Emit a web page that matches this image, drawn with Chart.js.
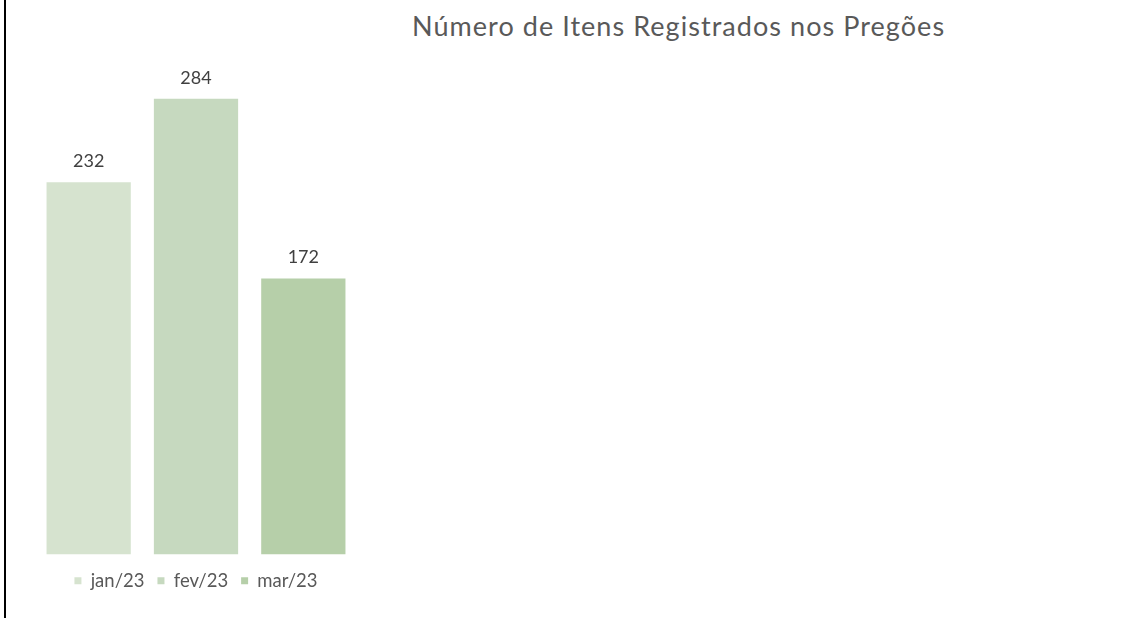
<!DOCTYPE html>
<html>
<head>
<meta charset="utf-8">
<script src="https://cdn.jsdelivr.net/npm/chart.js@4"></script>
<style>
  html, body { margin: 0; padding: 0; background: #fff; }
  #page { position: relative; width: 1146px; height: 618px; overflow: hidden; }
  #edge { position: absolute; left: 4px; top: 0; width: 2px; height: 618px; background: #000; }
  #title { position: absolute; left: 412px; top: 10px; font-family: Lato, sans-serif; font-size: 27px; letter-spacing: 1.05px; line-height: 32px; color: #595959; white-space: nowrap; }
  #box { position: absolute; left: 35px; top: 0; width: 322px; height: 618px; }
</style>
</head>
<body>
<div id="page">
  <div id="edge"></div>
  <div id="title">Número de Itens Registrados nos Pregões</div>
  <div id="box"><canvas id="chart"></canvas></div>
</div>
<script>
// séries (uma por mês) e valores
const categories = ['Itens'];
const seriesNames = ['jan/23', 'fev/23', 'mar/23'];
const seriesValues = [[232], [284], [172]];
const seriesColors = ['#d6e3cf', '#c6d9bf', '#b6cfa9'];

// rótulos de valor acima das barras
const valueLabels = {
    id: 'valueLabels',
    afterDatasetsDraw(chart) {
        const ctx = chart.ctx;
        ctx.save();
        ctx.font = '18px Lato';
        ctx.fillStyle = '#404040';
        ctx.textAlign = 'center';
        ctx.textBaseline = 'alphabetic';
        chart.data.datasets.forEach((ds, i) => {
            chart.getDatasetMeta(i).data.forEach((bar, j) => {
                ctx.fillText(ds.data[j], bar.x, bar.y - 15);
            });
        });
        ctx.restore();
    }
};

const ctx = document.getElementById('chart').getContext('2d');
new Chart(ctx, {
    type: 'bar',
    data: {
        labels: categories,
        datasets: seriesNames.map((name, i) => ({
            label: name,
            data: seriesValues[i],
            backgroundColor: seriesColors[i],
            borderWidth: 0
        }))
    },
    options: {
        responsive: true,
        maintainAspectRatio: false,
        animation: false,
        layout: { padding: { top: 73, bottom: 18, left: 0, right: 0 } },
        categoryPercentage: 1,
        barPercentage: 0.785,
        scales: {
            x: {
                display: true,
                grid: { display: false },
                border: { display: false },
                ticks: { display: false },
                afterFit: (s) => { s.height = 4; }
            },
            y: { display: false, min: 0, max: 300 }
        },
        plugins: {
            title: { display: false },
            tooltip: { enabled: false },
            legend: {
                position: 'bottom',
                labels: {
                    boxWidth: 7,
                    boxHeight: 7,
                    padding: 13,
                    color: '#595959',
                    font: { family: 'Lato', size: 18.5 }
                }
            }
        }
    },
    plugins: [valueLabels]
});
</script>
</body>
</html>
